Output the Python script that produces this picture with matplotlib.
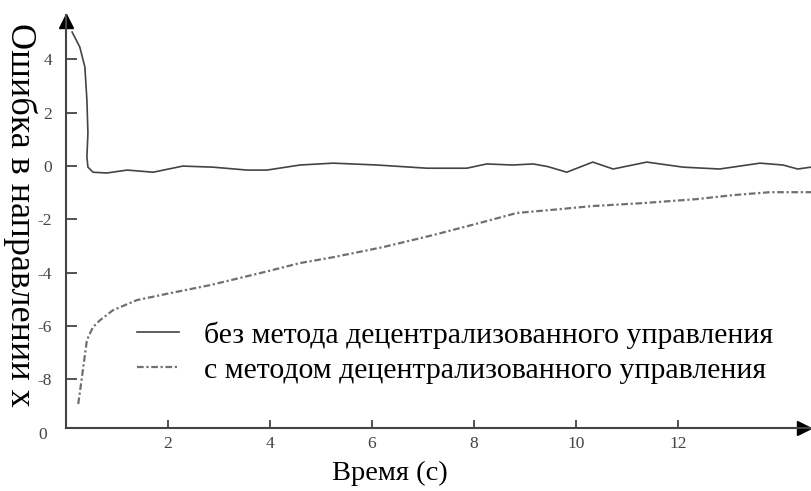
import matplotlib.pyplot as plt

# без метода (сплошная)
t1 = [0.12, 0.27, 0.37, 0.41, 0.43, 0.41, 0.43, 0.53, 0.80, 1.20, 1.71, 2.29, 2.88, 3.55, 3.94,
      4.59, 5.24, 6.10, 7.08, 7.86, 8.25, 8.76, 9.16, 9.45, 9.82, 10.33, 10.73, 11.39, 12.10,
      12.82, 13.61, 14.06, 14.35, 14.61]
e1 = [5.03, 4.47, 3.72, 2.48, 1.24, 0.34, -0.04, -0.23, -0.26, -0.15, -0.23, 0.0, -0.04, -0.15, -0.15,
      0.04, 0.11, 0.04, -0.08, -0.08, 0.08, 0.04, 0.08, -0.02, -0.23, 0.15, -0.11, 0.15, -0.04,
      -0.11, 0.11, 0.04, -0.11, -0.04]

# с методом (штрихпунктир)
t2 = [0.24, 0.31, 0.41, 0.53, 0.67, 0.92, 1.39, 2.04, 2.82, 3.80, 4.59, 5.24, 6.22, 7.20,
      8.18, 8.84, 9.49, 10.33, 11.31, 12.37, 13.08, 13.80, 14.61]
e2 = [-8.93, -7.96, -6.53, -6.04, -5.78, -5.41, -5.03, -4.77, -4.47, -4.02, -3.64, -3.42, -3.04, -2.59,
      -2.10, -1.76, -1.65, -1.50, -1.39, -1.24, -1.09, -0.98, -0.98]

xt = [2, 4, 6, 8, 10, 12]
yt = [-8, -6, -4, -2, 0, 2, 4]

lab1 = "без метода децентрализованного управления"
lab2 = "с методом децентрализованного управления"

plt.rcParams['font.family'] = ['Liberation Serif', 'DejaVu Serif']
plt.rcParams['axes.unicode_minus'] = False
ax_col = '#444444'

fig = plt.figure(figsize=(8.11, 4.91), dpi=100)
ax = fig.add_axes([66/811, 63/491, 745/811, 413/491])

ax.plot(t1, e1, color='#444444', lw=1.2, label=lab1)
ax.plot(t2, e2, color='#707070', lw=1.6, ls=(0, (3, 1.2, 1, 1.2)), label=lab2)

ax.set_xlim(0, 14.61)
ax.set_ylim(-9.83, 5.67)
for s in ['top', 'right']:
    ax.spines[s].set_visible(False)
for s in ['left', 'bottom']:
    ax.spines[s].set_linewidth(1.5)
    ax.spines[s].set_color(ax_col)

ax.set_xticks(xt)
ax.set_yticks(yt)
ax.tick_params(axis='both', direction='in', colors=ax_col, labelsize=12.5, width=1.3)
ax.tick_params(axis='y', length=8, pad=10)
ax.tick_params(axis='x', length=6, pad=6)

# стрелки осей
ax.plot(0.99, 0, '>', color='black', ms=10, transform=ax.transAxes, clip_on=False)
ax.plot(0, 0.985, '^', color='black', ms=10, transform=ax.transAxes, clip_on=False)

ax.annotate("0", (0, 0), xycoords='axes fraction', xytext=(-17, -5), textcoords='offset points',
            ha='center', va='center', fontsize=12.5, color=ax_col)

ax.set_xlabel("Время (с)", fontsize=20.5)
ax.xaxis.set_label_coords(0.435, -0.08)
ax.set_ylabel("Ошибка в направлении x", fontsize=26, rotation=-90, va='center')
ax.yaxis.set_label_coords(-0.062, 0.516)

ax.legend(loc='upper left', bbox_to_anchor=(0.095, 0.258), frameon=False, fontsize=21.5,
          handlelength=1.43, handletextpad=0.83, labelspacing=0.27, borderpad=0, borderaxespad=0)

fig.savefig('out.png', dpi=100)
